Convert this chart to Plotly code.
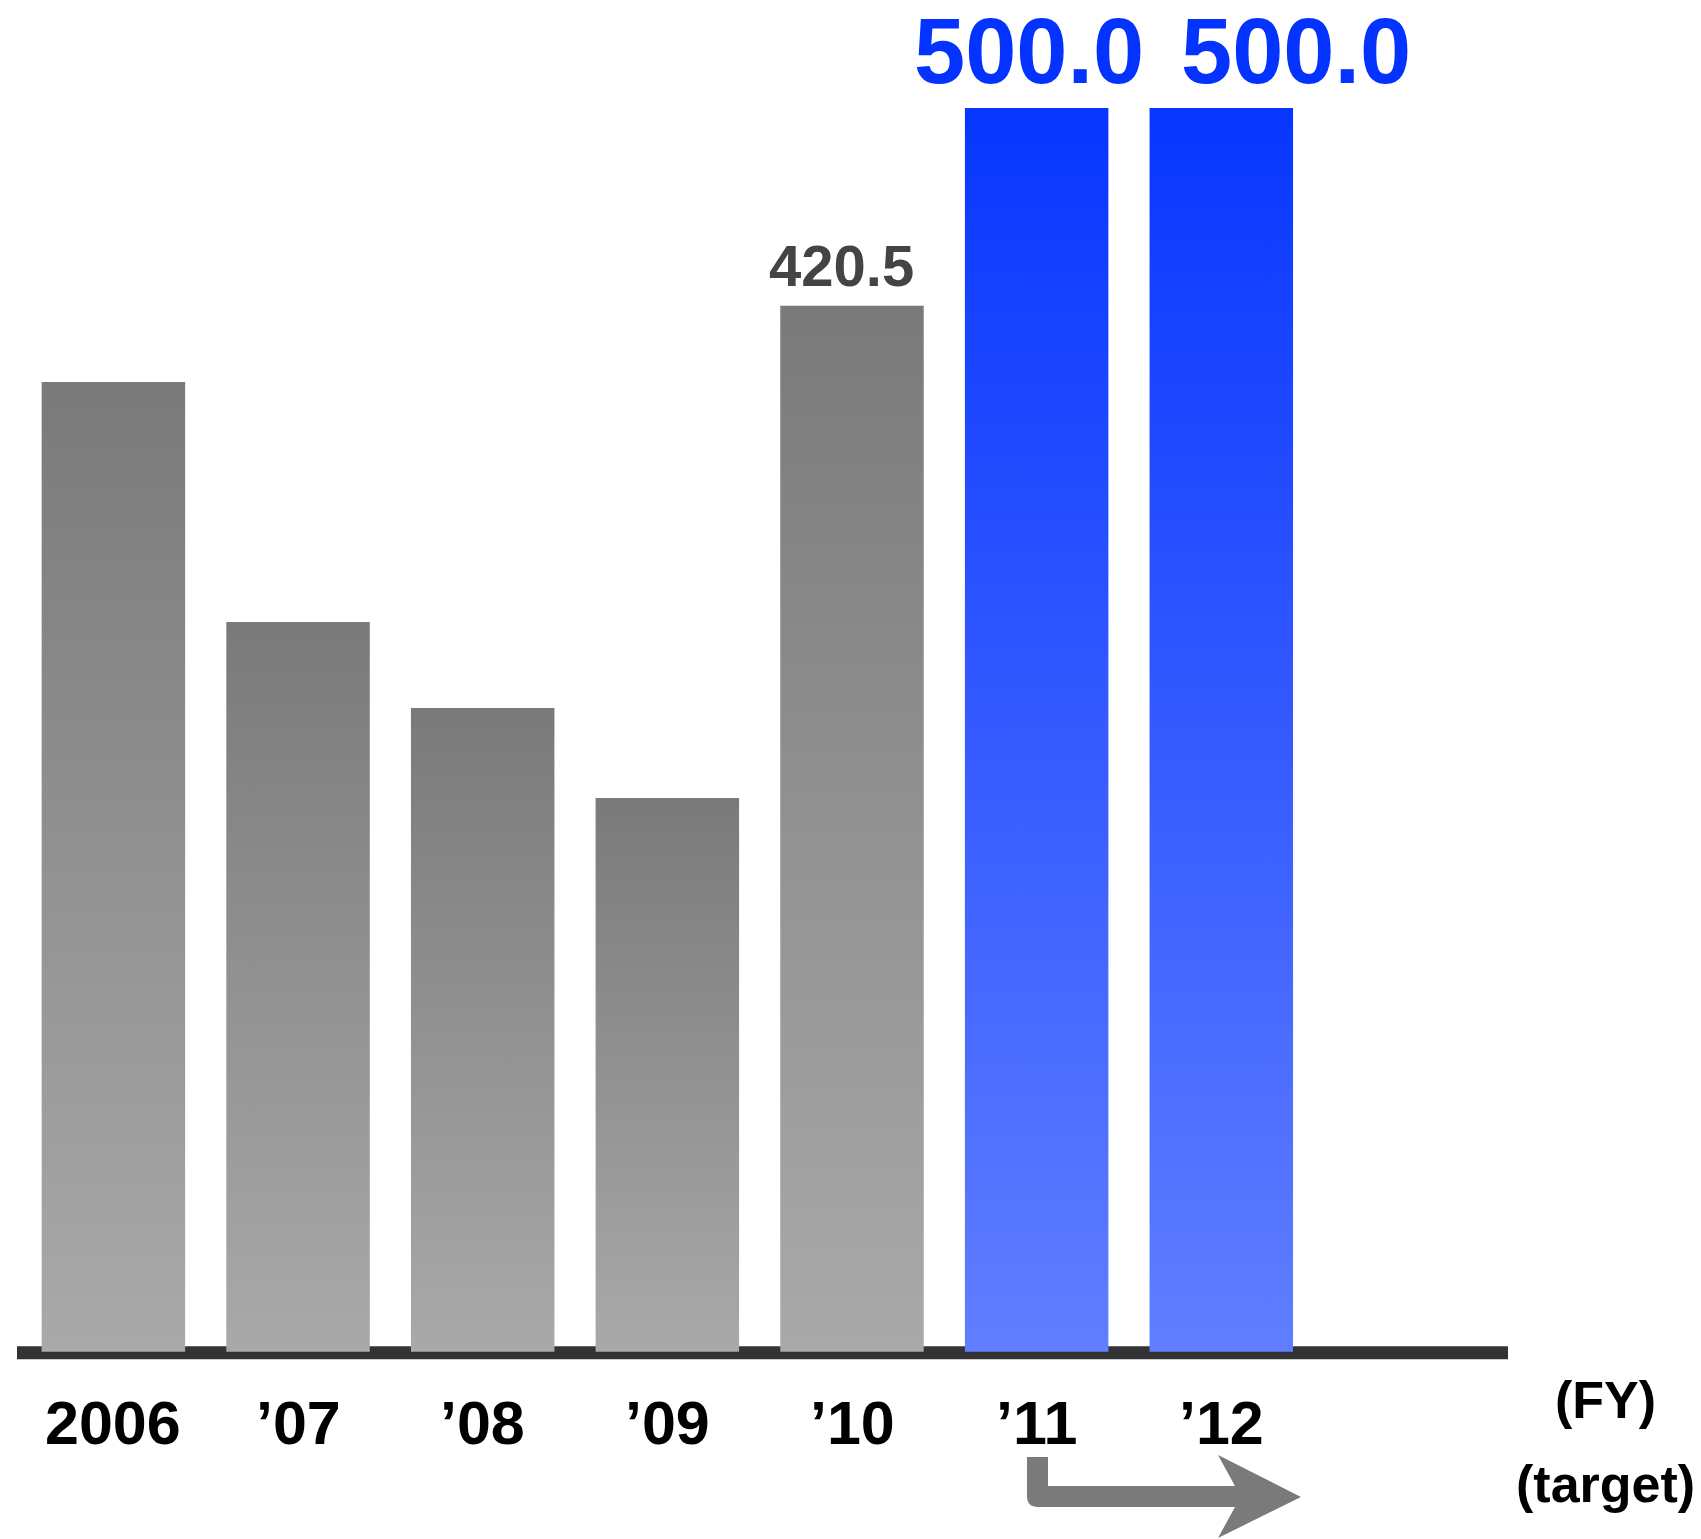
import plotly.graph_objects as go

# ---------------- data ----------------
categories = ["2006", "\u201907", "\u201908", "\u201909", "\u201910", "\u201911", "\u201912"]
values = [389.8, 293.4, 258.8, 222.6, 420.5, 500.0, 500.0]
is_target = [False, False, False, False, False, True, True]
value_labels = ["", "", "", "", "420.5", "500.0", "500.0"]
unit_label = "(FY)"
target_label = "(target)"

# ---------------- geometry / style ----------------
W, H = 1701, 1539
X0_PX, STEP_PX = 113.4, 184.65          # pixel of category 0, pixels per category
Y0_PX, Y_PX_PER_UNIT = 1351.7, 2.4874   # pixel of value 0, pixels per unit
BAR_W = 0.777
FONT = "Liberation Sans, Arial, Helvetica, sans-serif"

GRAY_TOP, GRAY_BOTTOM = "#7a7a7a", "#a9a9a9"
BLUE_TOP, BLUE_BOTTOM = "#0836ff", "#607eff"


def paper_x(px):
    return px / W


def paper_y(py):
    return 1 - py / H


def data_x(px):
    return (px - X0_PX) / STEP_PX


def data_y(py):
    return (Y0_PX - py) / Y_PX_PER_UNIT


x_range = [data_x(0), data_x(W)]
y_range = [data_y(H), data_y(0)]

fig = go.Figure()

for i, (cat, v, tgt) in enumerate(zip(categories, values, is_target)):
    top, bottom = (BLUE_TOP, BLUE_BOTTOM) if tgt else (GRAY_TOP, GRAY_BOTTOM)
    xs = [i - BAR_W / 2, i + BAR_W / 2, i + BAR_W / 2, i - BAR_W / 2, i - BAR_W / 2]
    ys = [0, 0, v, v, 0]
    fig.add_trace(go.Scatter(
        x=xs, y=ys, mode="lines", fill="toself",
        line=dict(width=0, color=top),
        fillgradient=dict(type="vertical", colorscale=[[0, bottom], [1, top]]),
        name=cat, hoverinfo="text", text=f"{cat}: {v}", showlegend=False,
    ))

# baseline
fig.add_shape(type="line", xref="x", yref="y",
              x0=data_x(17), x1=data_x(1508), y0=data_y(1352.7), y1=data_y(1352.7),
              line=dict(color="#333333", width=13), layer="below")

annotations = []
# category labels
for i, cat in enumerate(categories):
    annotations.append(dict(
        x=i, xref="x", y=paper_y(1422.5), yref="paper", text=cat, showarrow=False,
        xanchor="center", yanchor="middle",
        font=dict(family=FONT, size=61, color="#000000", weight="bold"),
    ))

# value labels
label_style = {
    4: dict(size=58, color="#444444", xshift=-11, yshift=40.7),
    5: dict(size=92, color="#0433ff", xshift=-8, yshift=57.5),
    6: dict(size=92, color="#0433ff", xshift=75, yshift=57.5),
}
for i, lab in enumerate(value_labels):
    if not lab:
        continue
    st = label_style[i]
    annotations.append(dict(
        x=i, xref="x", y=values[i], yref="y", text=lab, showarrow=False,
        xanchor="center", yanchor="middle", xshift=st["xshift"], yshift=st["yshift"],
        borderpad=0, borderwidth=0,
        font=dict(family=FONT, size=st["size"], color=st["color"], weight="bold"),
    ))

# unit labels
annotations.append(dict(
    x=paper_x(1605), xref="paper", y=paper_y(1399.5), yref="paper", text=unit_label,
    showarrow=False, xanchor="center", yanchor="middle",
    font=dict(family=FONT, size=52, color="#000000", weight="bold"),
))
annotations.append(dict(
    x=paper_x(1605), xref="paper", y=paper_y(1483.5), yref="paper", text=target_label,
    showarrow=False, xanchor="center", yanchor="middle",
    font=dict(family=FONT, size=52, color="#000000", weight="bold"),
))

# bent arrow (from '11 towards '12)
pts = [(1027, 1457), (1048, 1457), (1048, 1486), (1235, 1486), (1218, 1455),
       (1301, 1497), (1218, 1538), (1235, 1507), (1038, 1507)]
path = "M " + " L ".join(f"{paper_x(px):.5f},{paper_y(py):.5f}" for px, py in pts)
path += f" Q {paper_x(1027):.5f},{paper_y(1507):.5f} {paper_x(1027):.5f},{paper_y(1496):.5f} Z"
fig.add_shape(type="path", xref="paper", yref="paper", path=path,
              fillcolor="#7a7a7a", line=dict(width=0), layer="above")

fig.update_layout(
    width=W, height=H,
    margin=dict(l=0, r=0, t=0, b=0, pad=0),
    paper_bgcolor="#ffffff", plot_bgcolor="#ffffff",
    xaxis=dict(visible=False, range=x_range, fixedrange=True),
    yaxis=dict(visible=False, range=y_range, fixedrange=True),
    annotations=annotations,
    showlegend=False,
)

fig.write_html("out.html", config={"displayModeBar": False},
               post_script="document.body.style.margin='0';document.body.style.overflow='hidden';")
